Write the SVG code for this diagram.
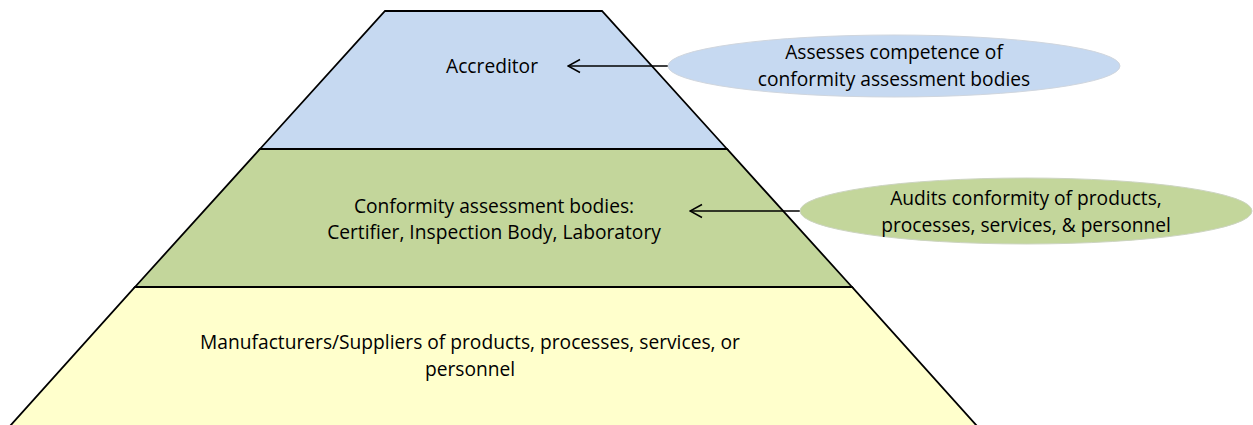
<svg xmlns="http://www.w3.org/2000/svg" width="1253" height="425" viewBox="0 0 1253 425">
  <defs>
    <style>
      .tier { stroke: #000; stroke-width: 1.8; stroke-linejoin: miter; }
      .lbl { font-family: "Open Sans", "Liberation Sans", sans-serif; font-size: 19.2px; fill: #000; text-anchor: middle; }
      .conn { stroke: #000; stroke-width: 1.5; fill: none; }
    </style>
    <marker id="arrow" viewBox="0 0 14 16" refX="13" refY="8" markerWidth="14" markerHeight="16" markerUnits="userSpaceOnUse" orient="auto">
      <path d="M1,1.5 L13,8 L1,14.5" fill="none" stroke="#000" stroke-width="1.5"/>
    </marker>
  </defs>

  <rect width="1253" height="425" fill="#fff"/>

  <!-- pyramid tiers, top to bottom -->
  <g id="accreditor">
    <polygon class="tier" points="385,11 602,11 727,149 260,149" fill="#c6d9f1"/>
    <text class="lbl" x="492" y="73">Accreditor</text>
  </g>

  <g id="conformity-bodies">
    <polygon class="tier" points="260,149 727,149 852,287 135,287" fill="#c3d69b"/>
    <text class="lbl" x="494" y="213">Conformity assessment bodies:</text>
    <text class="lbl" x="494" y="239">Certifier, Inspection Body, Laboratory</text>
  </g>

  <g id="manufacturers">
    <polygon class="tier" points="135,287 852,287 977,426 10,426" fill="#ffffcc"/>
    <text class="lbl" x="470" y="349">Manufacturers/Suppliers of products, processes, services, or</text>
    <text class="lbl" x="470" y="376">personnel</text>
  </g>

  <!-- connectors from the callouts into the tiers -->
  <g id="connectors">
    <line class="conn" x1="668" y1="66" x2="568" y2="66" marker-end="url(#arrow)"/>
    <line class="conn" x1="800" y1="211" x2="690" y2="211" marker-end="url(#arrow)"/>
  </g>

  <!-- callouts -->
  <g id="callout-accreditor">
    <ellipse cx="894" cy="66" rx="226" ry="31" fill="#c6d9f1" stroke="#d0d6de" stroke-width="1"/>
    <text class="lbl" x="894" y="59">Assesses competence of</text>
    <text class="lbl" x="894" y="86">conformity assessment bodies</text>
  </g>

  <g id="callout-bodies">
    <ellipse cx="1026" cy="211" rx="226" ry="33" fill="#c3d69b" stroke="#ccd4c0" stroke-width="1"/>
    <text class="lbl" x="1026" y="205">Audits conformity of products,</text>
    <text class="lbl" x="1026" y="232">processes, services, &amp; personnel</text>
  </g>
</svg>
